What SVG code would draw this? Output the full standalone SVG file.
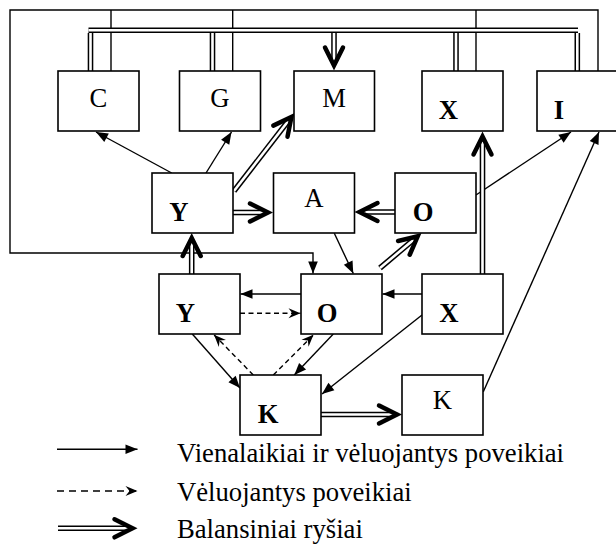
<svg xmlns="http://www.w3.org/2000/svg" width="616" height="549" viewBox="0 0 616 549">
<style>
.box{fill:#fff;stroke:#000;stroke-width:1.6}
.t{font-family:"Liberation Serif","Times New Roman",serif;font-size:26.67px;fill:#000;text-anchor:middle}
.b{font-weight:bold}
.lg{font-family:"Liberation Serif","Times New Roman",serif;font-size:26.67px;fill:#000}
.ln{fill:none;stroke:#000;stroke-width:1.4}
.a{marker-end:url(#arr)}
.ds{fill:none;stroke:#000;stroke-width:1.4;stroke-dasharray:5,3.5;marker-end:url(#darr)}
.dk{fill:none;stroke:#000;stroke-width:5.6}
.dw{fill:none;stroke:#fff;stroke-width:2.6}
.dm{marker-end:url(#dbl)}
</style>
<defs>
<marker id="arr" markerUnits="userSpaceOnUse" orient="auto" refX="0" refY="0" markerWidth="1" markerHeight="1" overflow="visible">
<path d="M0,0 L-12,-4.8 L-12,4.8 Z" fill="#000"/>
</marker>
<marker id="darr" markerUnits="userSpaceOnUse" orient="auto" refX="0" refY="0" markerWidth="1" markerHeight="1" overflow="visible">
<path d="M0,0 L-12,-5 L-8,0 L-12,5 Z" fill="#000"/>
</marker>
<marker id="dbl" markerUnits="userSpaceOnUse" orient="auto" refX="-3" refY="0" markerWidth="1" markerHeight="1" overflow="visible">
<path d="M-18,-9 L0,0 L-18,9" fill="none" stroke="#000" stroke-width="4.5" stroke-linecap="round" stroke-linejoin="miter" stroke-miterlimit="10"/>
</marker>
</defs>
<rect width="616" height="549" fill="#fff"/>

<g id="connectors">
<path class="ln a" d="M111,71 V10 M232.7,71 V10 M476,71 V10 M598,71 V10 H10 V253 H313 V273.5"/>
<path class="dk" d="M88.5,30.2 H578"/>
<path class="dw" d="M88.5,30.2 H578"/>
<path class="dk" d="M90.5,33 V71 M212.5,33 V71 M456,33 V71 M577.3,33 V71"/>
<path class="dw" d="M90.5,33 V71 M212.5,33 V71 M456,33 V71 M577.3,33 V71"/>
<path class="dk" d="M334,33 V62.5"/>
<path class="dw dm" d="M334,33 V62.5"/>
<path class="ln a" d="M171.7,173 L96,132"/>
<path class="ln a" d="M206,173 L231.5,132"/>
<path class="dk" d="M234,191 L289.6,119.3"/>
<path class="dw dm" d="M234,191 L289.6,119.3"/>
<path class="dk" d="M233,212.5 H265"/>
<path class="dw dm" d="M233,212.5 H265"/>
<path class="dk" d="M395,212 H362.5"/>
<path class="dw dm" d="M395,212 H362.5"/>
<path class="ln a" d="M476,195 L571,132"/>
<path class="ln a" d="M483.3,391.7 L599,132"/>
<path class="ln a" d="M334.3,233.3 L353.3,273.5"/>
<path class="dk" d="M380,268 L415.4,238.2"/>
<path class="dw dm" d="M380,268 L415.4,238.2"/>
<path class="dk" d="M482.5,274 V139.5"/>
<path class="dw dm" d="M482.5,274 V139.5"/>
<path class="dk" d="M191.7,274 V241"/>
<path class="dw dm" d="M191.7,274 V241"/>
<path class="ln a" d="M301,294 H240.5"/>
<path class="ln a" d="M422,294 H382.5"/>
<path class="ds" d="M240,313.3 H300.5"/>
<path class="ln a" d="M192.3,334 L240,388"/>
<path class="ds" d="M253.3,375 L214,334.8"/>
<path class="ds" d="M273.3,375 L313.5,334.8"/>
<path class="ln a" d="M333.3,334 L294.3,375"/>
<path class="ln a" d="M422,315 L322,394"/>
<path class="dk" d="M321,414.5 H394"/>
<path class="dw dm" d="M321,414.5 H394"/>
</g>

<g id="C"><rect class="box" x="58" y="71" width="81" height="60"/><text class="t" x="98.5" y="107">C</text></g>
<g id="G"><rect class="box" x="179.5" y="71" width="81" height="60"/><text class="t" x="220" y="107">G</text></g>
<g id="M"><rect class="box" x="294" y="71" width="80.5" height="60"/><text class="t" x="334" y="107">M</text></g>
<g id="X"><rect class="box" x="422" y="71" width="81" height="60"/><text class="t b" x="448.5" y="119">X</text></g>
<g id="I"><rect class="box" x="537" y="71" width="81" height="60"/><text class="t b" x="559" y="119">I</text></g>
<g id="Y"><rect class="box" x="152" y="173" width="81" height="60"/><text class="t b" x="179" y="221">Y</text></g>
<g id="A"><rect class="box" x="273.5" y="173" width="81" height="60"/><text class="t" x="314" y="207">A</text></g>
<g id="O"><rect class="box" x="395" y="173" width="81" height="60"/><text class="t b" x="423" y="221">O</text></g>
<g id="Y2"><rect class="box" x="159" y="274" width="81" height="60"/><text class="t b" x="185.5" y="322">Y</text></g>
<g id="O2"><rect class="box" x="301" y="274" width="81" height="60"/><text class="t b" x="327" y="322">O</text></g>
<g id="X2"><rect class="box" x="422" y="274" width="81" height="60"/><text class="t b" x="449" y="322">X</text></g>
<g id="K"><rect class="box" x="240" y="375" width="81" height="60"/><text class="t b" x="268" y="423">K</text></g>
<g id="K2"><rect class="box" x="402" y="375" width="81" height="60"/><text class="t" x="442.5" y="408.5">K</text></g>

<g id="legend">
<path class="ln a" d="M57,449.3 H137.5"/>
<path class="ds" d="M57,491 H137.5" style="stroke-dasharray:7,5"/>
<path class="dk" d="M58,528.3 H129.5"/>
<path class="dw dm" d="M58,528.3 H129.5"/>
<text class="lg" x="177" y="461.5">Vienalaikiai ir vėluojantys poveikiai</text>
<text class="lg" x="177" y="500.5">Vėluojantys poveikiai</text>
<text class="lg" x="177" y="537.5">Balansiniai ryšiai</text>
</g>
</svg>
